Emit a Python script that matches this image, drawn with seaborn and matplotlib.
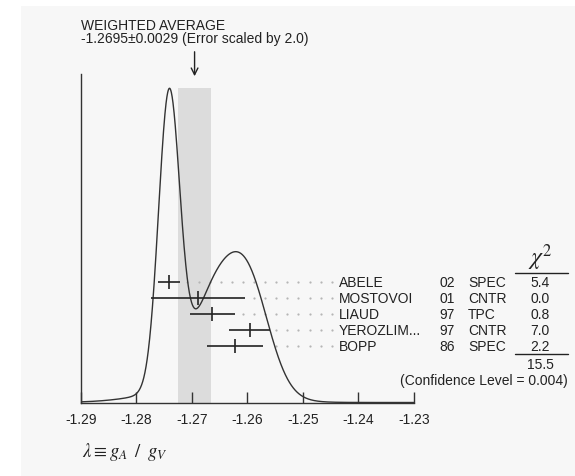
import numpy as np
import pandas as pd
import matplotlib
matplotlib.use("Agg")
import matplotlib.pyplot as plt
from matplotlib.patches import Rectangle
import seaborn as sns

# ---------------- data ----------------
names = ["ABELE", "MOSTOVOI", "LIAUD", "YEROZLIM...", "BOPP"]
years = ["02", "01", "97", "97", "86"]
techs = ["SPEC", "CNTR", "TPC", "CNTR", "SPEC"]
values = [-1.2741, -1.2689, -1.2663, -1.2596, -1.2622]
errors = [0.0019, 0.0084, 0.0040, 0.0037, 0.0050]
chi2 = ["5.4", "0.0", "0.8", "7.0", "2.2"]
chi2_total = "15.5"
conf_level = "0.004"
avg_value = -1.2695
avg_error = 0.0029
xticks = [-1.29, -1.28, -1.27, -1.26, -1.25, -1.24, -1.23]

sns.set_theme(style="white")
plt.rcParams["font.family"] = ["Liberation Sans", "DejaVu Sans"]
plt.rcParams["font.size"] = 10

W, H = 575, 477
fig = plt.figure(figsize=(W / 100, H / 100), dpi=100, facecolor="white")

def fx(px):
    return px / W

def fy(py):
    return 1 - py / H

# light gray panel
fig.patches.append(Rectangle((fx(21), 0), 1 - fx(21), fy(7), transform=fig.transFigure,
                             facecolor="#f7f7f7", edgecolor="none", zorder=-10))

x_left, x_right = 80.7, 414.0
y_base, y_top = 403.5, 75.0
ax = fig.add_axes([fx(x_left), fy(y_base), (x_right - x_left) / W, (y_base - y_top) / H])
ax.set_facecolor("none")
ax.set_xlim(-1.29, -1.23)
ax.set_ylim(0, 1)

# ideogram: each measurement a Gaussian with area proportional to 1/sigma
xs = np.linspace(-1.29, -1.23, 1200)
vals = np.array(values)
errs = np.array(errors)
ideo = np.zeros_like(xs)
for v, e in zip(vals, errs):
    ideo += np.exp(-0.5 * ((xs - v) / e) ** 2) / e ** 2
peak_frac = (y_base - 89.3) / (y_base - y_top)
ideo = ideo / ideo.max() * peak_frac
curve = pd.DataFrame({"x": xs, "y": ideo})

# weighted average band
ax.axvspan(avg_value - avg_error, avg_value + avg_error, ymin=0, ymax=peak_frac,
           color="#dcdcdc", zorder=0, lw=0)

sns.lineplot(data=curve, x="x", y="y", ax=ax, color="#333333", lw=1.0, zorder=3)

# measurement rows
row0 = (y_base - 283.0) / (y_base - y_top)
row_step = 16.0 / (y_base - y_top)
rows = [row0 - i * row_step for i in range(len(values))]
ax.errorbar(values, rows, xerr=errors, fmt="|", color="#222222", ecolor="#222222",
            elinewidth=1.2, markersize=10, markeredgewidth=1.2, capsize=0, zorder=4)

# dotted leaders
px_per_unit = (x_right - x_left) / 0.06
def px2x(px):
    return -1.29 + (px - x_left) / px_per_unit
dot_last = 331.7
dot_step = 11.1
for v, e, r in zip(values, errors, rows):
    end_px = x_left + (v + e + 1.29) * px_per_unit
    k = np.arange(0, 40)
    dpx = dot_last - k * dot_step
    dpx = dpx[dpx > end_px + 3]
    ax.plot([px2x(p) for p in dpx], [r] * len(dpx), ls="none", marker="o",
            markersize=1.6, color="#b5b5b5", markeredgewidth=0, zorder=2)

# axes styling
sns.despine(ax=ax, top=True, right=True)
for s in ["left", "bottom"]:
    ax.spines[s].set_color("#333333")
    ax.spines[s].set_linewidth(1.0)
ax.set_xticks(xticks)
ax.set_xticklabels([f"{t:.2f}" for t in xticks])
ax.set_yticks([])
ax.tick_params(axis="x", direction="in", length=7.9, width=1.0, color="#333333",
               pad=7, labelsize=10, labelcolor="#222222", bottom=True)
ax.set_xlabel("")
ax.set_ylabel("")

# texts on the right
txt_kw = dict(fontsize=10, color="#222222", va="center")
for i, r in enumerate(rows):
    py = 283.0 + i * 16.0
    fig.text(fx(339), fy(py), names[i], ha="left", **txt_kw)
    fig.text(fx(439), fy(py), years[i], ha="left", **txt_kw)
    fig.text(fx(468), fy(py), techs[i], ha="left", **txt_kw)
    fig.text(fx(540), fy(py), chi2[i], ha="center", **txt_kw)

fig.text(fx(540), fy(258), r"$\chi^2$", ha="center", va="center", fontsize=17,
         color="#222222", math_fontfamily="stix")
fig.add_artist(plt.Line2D([fx(515), fx(568)], [fy(274), fy(274)], color="#222222", lw=1.0,
                          transform=fig.transFigure))
fig.add_artist(plt.Line2D([fx(515), fx(568)], [fy(355), fy(355)], color="#222222", lw=1.0,
                          transform=fig.transFigure))
fig.text(fx(540), fy(365), chi2_total, ha="center", **txt_kw)
fig.text(fx(568), fy(381), f"(Confidence Level = {conf_level})", ha="right", **txt_kw)

# weighted average annotation
fig.text(fx(80.7), fy(25.5), "WEIGHTED AVERAGE", ha="left", **txt_kw)
fig.text(fx(80.7), fy(38.5), f"{avg_value:.4f}\u00b1{avg_error:.4f} (Error scaled by 2.0)",
         ha="left", **txt_kw)
ax.annotate("", xy=(avg_value, (y_base - 80) / (y_base - y_top)), xycoords=("data", "axes fraction"),
            xytext=(avg_value, (y_base - 50) / (y_base - y_top)), textcoords=("data", "axes fraction"),
            arrowprops=dict(arrowstyle="->", color="#222222", lw=1.0, mutation_scale=12),
            annotation_clip=False)

# x label
fig.text(fx(82), fy(452), r"$\lambda \equiv g_{A}\;\;/\;\;g_{V}$", ha="left", va="center",
         fontsize=13.5, color="#222222", math_fontfamily="stix")

fig.savefig("out.png", dpi=100, facecolor="white")
